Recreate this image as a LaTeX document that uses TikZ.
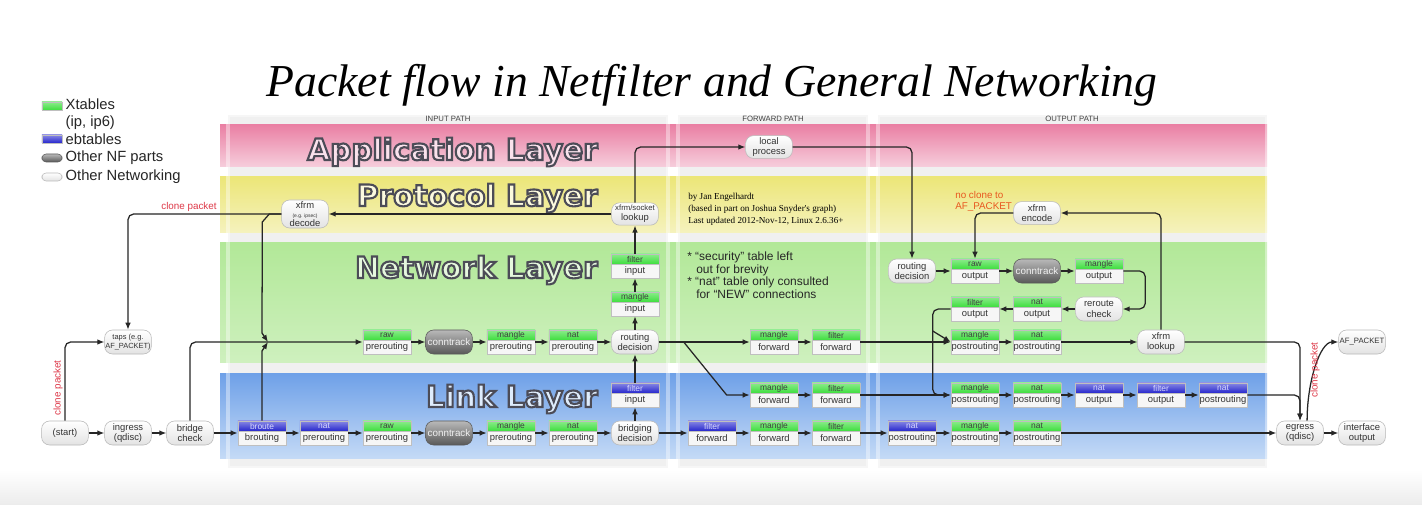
\documentclass[tikz,border=0pt]{standalone}
\usepackage{fontspec}
\setmainfont{Liberation Sans}
\newfontfamily\titlefont{Liberation Serif}
\newfontfamily\layerfont{DejaVu Sans}
\usetikzlibrary{arrows.meta,positioning,calc}

\definecolor{xgreen}{RGB}{62,222,62}
\definecolor{ebblue}{RGB}{38,38,205}
\definecolor{clonered}{RGB}{222,56,72}
\definecolor{noclone}{RGB}{232,88,32}
\definecolor{apptop}{RGB}{234,128,164}
\definecolor{appbot}{RGB}{246,206,220}
\definecolor{prottop}{RGB}{236,230,120}
\definecolor{protbot}{RGB}{245,242,190}
\definecolor{nettop}{RGB}{178,232,152}
\definecolor{netbot}{RGB}{206,240,190}
\definecolor{linktop}{RGB}{110,160,232}
\definecolor{linkbot}{RGB}{196,218,246}
\definecolor{appfill}{RGB}{250,226,236}
\definecolor{protfill}{RGB}{252,250,222}
\definecolor{netfill}{RGB}{230,248,222}
\definecolor{linkfill}{RGB}{222,236,252}

% table box: name, position, header style, table, chain
\newcommand{\xtab}[5]{%
  \node[tab] (#1) at (#2) {};
  \node[#3, anchor=north] (#1-t) at (#1.north) {#4};
  \node[chainlbl, anchor=south] (#1-c) at (#1.south) {#5};
}

% outlined text (fill + dark stroke)
\newcommand{\outlined}[1]{\special{pdf:literal direct 2 Tr 1.5 w 0.3 0.3 0.34 RG}#1\special{pdf:literal direct 0 Tr}}

\begin{document}
\begin{tikzpicture}[x=0.025cm, y=-0.025cm,
    arr/.style={-{Latex[length=5pt,width=4pt]}, line width=0.9pt, draw=black!85},
    net/.style={rounded corners=0.2cm, draw=gray!55, top color=white, bottom color=gray!22, minimum width=1.17cm, minimum height=0.6cm, inner sep=0pt, align=center, font=\fontsize{6.7}{7.3}\selectfont, text=black!80},
    nf/.style={net, draw=gray!70!black, top color=gray!55, bottom color=gray!70!black, text=gray!12, font=\fontsize{7}{8}\selectfont},
    tab/.style={draw=gray!50, fill=gray!7, minimum width=1.2cm, minimum height=0.6cm, inner sep=0pt},
    xg/.style={draw=gray!50, top color=xgreen!60!white, bottom color=xgreen, minimum width=1.2cm, minimum height=0.25cm, inner sep=0pt, font=\fontsize{6}{6}\selectfont, text=black!75},
    eb/.style={xg, top color=ebblue!55!white, bottom color=ebblue, text=white!85!blue},
    chainlbl/.style={minimum height=0.35cm, inner sep=0pt, font=\fontsize{6.7}{7}\selectfont, text=black!80},
    layertxt/.style={font=\layerfont\bfseries\fontsize{21}{21}\selectfont, anchor=base east, inner sep=0pt},
    colhead/.style={font=\fontsize{5.5}{6}\selectfont, text=black!75, inner sep=0pt},
    legend/.style={font=\fontsize{10.5}{12}\selectfont, text=black!85, inner sep=1pt, align=left},
    clone/.style={font=\fontsize{7}{8}\selectfont, text=clonered, inner sep=1pt}
]

\useasboundingbox (0,0) rectangle (1422,505);
\fill[white] (0,0) rectangle (1422,470);
\fill[top color=white, bottom color=gray!15] (0,470) rectangle (1422,505);

% Title
\node[font=\titlefont\itshape\fontsize{32.5}{36}\selectfont, anchor=base] (title) at (712,97) {Packet flow in Netfilter and General Networking};

% Legend
\node[xg, minimum width=0.5cm, minimum height=0.2cm] (lgx) at (52,106) {};
\node[legend, anchor=north west] (lgxt) at (64,97) {Xtables\\(ip, ip6)};
\node[eb, minimum width=0.5cm, minimum height=0.2cm] (lgb) at (52,139) {};
\node[legend, anchor=west] (lgbt) at (64,139) {ebtables};
\node[nf, minimum width=0.5cm, minimum height=0.2cm, rounded corners=0.1cm] (lgn) at (52,158) {};
\node[legend, anchor=west] (lgnt) at (64,158) {Other NF parts};
\node[net, minimum width=0.5cm, minimum height=0.2cm, rounded corners=0.1cm] (lgo) at (52,177) {};
\node[legend, anchor=west] (lgot) at (64,177) {Other Networking};

% Path columns and layers
\fill[gray!12] (228,115) rectangle (668,468);
\fill[gray!12] (678,115) rectangle (868,468);
\fill[gray!12] (878,115) rectangle (1267,468);
\fill[top color=apptop, bottom color=appbot] (220,125) rectangle (1267,167);
\fill[top color=prottop, bottom color=protbot] (220,177) rectangle (1267,233);
\fill[top color=nettop, bottom color=netbot] (220,243) rectangle (1267,362);
\fill[top color=linktop, bottom color=linkbot] (220,373) rectangle (1267,458);
\draw[white, opacity=0.4, line width=2.5pt] (228,115) rectangle (668,468);
\draw[white, opacity=0.4, line width=2.5pt] (678,115) rectangle (868,468);
\draw[white, opacity=0.4, line width=2.5pt] (878,115) rectangle (1267,468);
\node[colhead] (hin) at (448,119) {INPUT PATH};
\node[colhead] (hfwd) at (773,119) {FORWARD PATH};
\node[colhead] (hout) at (1072,119) {OUTPUT PATH};

\node[layertxt, text=appfill] (lapp) at (598,160) {\outlined{Application Layer}};
\node[layertxt, text=protfill] (lprot) at (598,206) {\outlined{Protocol Layer}};
\node[layertxt, text=netfill] (lnet) at (598,278) {\outlined{Network Layer}};
\node[layertxt, text=linkfill] (llink) at (598,407) {\outlined{Link Layer}};

% Notes
\node[font=\titlefont\fontsize{6.5}{8.6}\selectfont, anchor=north west, align=left, inner sep=0pt] (credit) at (688,193) {by Jan Engelhardt\\(based in part on Joshua Snyder's graph)\\Last updated 2012-Nov-12, Linux 2.6.36+};
\node[font=\fontsize{8.5}{8.9}\selectfont, anchor=north west, align=left, inner sep=0pt, text=black!85] (notes) at (687,252) {* “security” table left\\\hspace*{0.75em}out for brevity\\* “nat” table only consulted\\\hspace*{0.75em}for “NEW” connections};
\node[font=\fontsize{7}{7.6}\selectfont, anchor=north west, align=left, inner sep=0pt, text=noclone] (noclone) at (955,191) {no clone to\\AF\_PACKET};

% Other networking
\node[net] (start) at (65,433) {(start)};
\node[net] (ingress) at (128,433) {ingress\\(qdisc)};
\node[net] (brchk) at (190,433) {bridge\\check};
\node[net, font=\fontsize{5.3}{6}\selectfont] (taps) at (128,342) {taps (e.g.\\AF\_PACKET)};
\node[net] (bdec) at (635,433) {bridging\\decision};
\node[net] (rdIn) at (635,342) {routing\\decision};
\node[net, minimum height=0.56cm] (lookup) at (635,214) {{\fontsize{5.5}{6}\selectfont xfrm/socket}\\lookup};
\node[net, minimum height=0.7cm] (xdec) at (305,214) {xfrm\\[-1pt]{\fontsize{3.5}{4}\selectfont (e.g. ipsec)}\\[-1pt]decode};
\node[net, minimum height=0.57cm] (lproc) at (769,147) {local\\process};
\node[net] (rdOut) at (912,271) {routing\\decision};
\node[net] (rrc) at (1099,309) {reroute\\check};
\node[net, minimum height=0.57cm] (xenc) at (1037,213) {xfrm\\encode};
\node[net] (xlook) at (1161,342) {xfrm\\lookup};
\node[net] (egress) at (1300,433) {egress\\(qdisc)};
\node[net] (ifout) at (1362,433) {interface\\output};
\node[net, font=\fontsize{5.5}{6}\selectfont] (afpkt) at (1362,342) {AF\_PACKET};

% Other NF parts
\node[nf] (ctN) at (449,342) {conntrack};
\node[nf] (ctL) at (449,433) {conntrack};
\node[nf] (ctO) at (1037,271) {conntrack};

% Network layer tables
\xtab{rawN}{387,342}{xg}{raw}{prerouting}
\xtab{mpreN}{511,342}{xg}{mangle}{prerouting}
\xtab{npreN}{573,342}{xg}{nat}{prerouting}
\xtab{minN}{635,304}{xg}{mangle}{input}
\xtab{finN}{635,266}{xg}{filter}{input}
\xtab{mfwdN}{774,342}{xg}{mangle}{forward}
\xtab{ffwdN}{836,342}{xg}{filter}{forward}
\xtab{mpostN}{975,342}{xg}{mangle}{postrouting}
\xtab{npostN}{1037,342}{xg}{nat}{postrouting}
\xtab{rawO}{975,271}{xg}{raw}{output}
\xtab{mangO}{1099,271}{xg}{mangle}{output}
\xtab{natO}{1037,309}{xg}{nat}{output}
\xtab{filO}{975,309}{xg}{filter}{output}

% Link layer tables
\xtab{finB}{635,395}{eb}{filter}{input}
\xtab{mfwdM}{774,395}{xg}{mangle}{forward}
\xtab{ffwdM}{836,395}{xg}{filter}{forward}
\xtab{mpostM}{975,395}{xg}{mangle}{postrouting}
\xtab{npostM}{1037,395}{xg}{nat}{postrouting}
\xtab{noutB}{1099,395}{eb}{nat}{output}
\xtab{foutB}{1161,395}{eb}{filter}{output}
\xtab{npostB}{1223,395}{eb}{nat}{postrouting}
\xtab{brt}{262,433}{eb}{broute}{brouting}
\xtab{npreB}{324,433}{eb}{nat}{prerouting}
\xtab{rawL}{387,433}{xg}{raw}{prerouting}
\xtab{mpreL}{511,433}{xg}{mangle}{prerouting}
\xtab{npreL}{573,433}{xg}{nat}{prerouting}
\xtab{ffwdB}{712,433}{eb}{filter}{forward}
\xtab{mfwdL}{774,433}{xg}{mangle}{forward}
\xtab{ffwdL}{836,433}{xg}{filter}{forward}
\xtab{npostBB}{912,433}{eb}{nat}{postrouting}
\xtab{mpostL}{975,433}{xg}{mangle}{postrouting}
\xtab{npostL}{1037,433}{xg}{nat}{postrouting}

% Straight arrows
\foreach \a/\b in {start/ingress, ingress/brchk, brchk/brt, brt/npreB, npreB/rawL, rawL/ctL, ctL/mpreL, mpreL/npreL, npreL/bdec, bdec/ffwdB, ffwdB/mfwdL, mfwdL/ffwdL, ffwdL/npostBB, npostBB/mpostL, mpostL/npostL, npostL/egress, egress/ifout,
    rawN/ctN, ctN/mpreN, mpreN/npreN, npreN/rdIn, rdIn/mfwdN, mfwdN/ffwdN, ffwdN/mpostN, mpostN/npostN, npostN/xlook,
    bdec/finB, finB/rdIn, rdIn/minN, minN/finN, finN/lookup, lookup/xdec,
    rdOut/rawO, rawO/ctO, ctO/mangO, rrc/natO, natO/filO,
    mfwdM/ffwdM, ffwdM/mpostM, mpostM/npostM, npostM/noutB, noutB/foutB, foutB/npostB}
  \draw[arr] (\a) -- (\b);

% Bent arrows
\coordinate (jn) at (268,342);
\draw[arr, rounded corners=4pt] (start.north) |- (taps.west);
\draw[arr, rounded corners=4pt] (brchk.north) |- (rawN.west);
\draw[arr, rounded corners=4pt] (xdec.west) -| (taps.north);
\draw[arr] (brt.north) -- ($(brt.north |- jn)+(0,9)$) -- (jn);
\draw[arr] (xdec.west) -- ++(-12,0) -- ++(-7,8) -- ($(brt.north |- jn)+(0,-9)$) -- (jn);
\draw[arr, rounded corners=4pt] (lookup.north) |- (lproc.west);
\draw[arr, rounded corners=4pt] (lproc.east) -| (rdOut.north);
\draw[arr, rounded corners=4pt] (mangO.east) -- ++(22,0) |- (rrc.east);
\draw[arr, rounded corners=4pt] (filO.west) -- ++(-18,0) |- (mpostM.west);
\draw[arr] ($(filO.west)+(-18,22)$) -- (mpostN.west);
\draw[arr] ($(rdIn.east)+(25,0)$) -- ++(43,53) -- (mfwdM.west);
\draw[arr, rounded corners=4pt] (xlook.north) |- (xenc.east);
\draw[arr, rounded corners=4pt] (xenc.west) -| (rawO.north);
\draw[arr, rounded corners=4pt] (xlook.east) -| (egress.north);
\draw[arr, rounded corners=4pt] (npostB.east) -| (egress.north);
\draw[arr] (egress.60) .. controls ($(egress.60)+(0,-40)$) and ($(afpkt.west)+(-18,0)$) .. (afpkt.west);

% Clone labels
\node[clone] (clone1) at (189,207) {clone packet};
\node[clone, rotate=90] (clone2) at (58,388) {clone packet};
\node[clone, rotate=90] (clone3) at (1315,370) {clone packet};

\end{tikzpicture}
\end{document}
